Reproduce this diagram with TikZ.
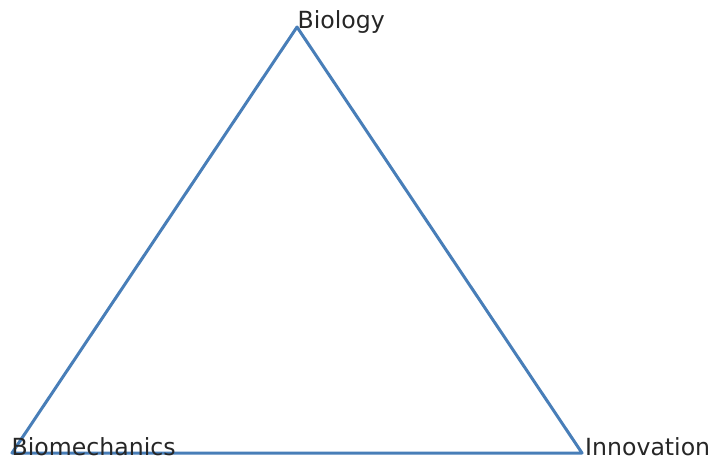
\documentclass[tikz,border=0pt]{standalone}
\usepackage{fontspec}
\setmainfont{DejaVu Sans}
\definecolor{edgeblue}{RGB}{72,126,184}
\definecolor{labelgray}{RGB}{38,38,38}
\begin{document}
\begin{tikzpicture}[x=1pt,y=-1pt,
  vlabel/.style={anchor=base west,inner sep=0pt,text=labelgray,font=\fontsize{23.6}{26}\selectfont},
  edge/.style={draw=edgeblue,line width=3pt,line join=round}]
\useasboundingbox (0,0) rectangle (709,460);
\coordinate (top) at (297,27);
\coordinate (bl) at (12,453);
\coordinate (br) at (582,453);
\draw[edge] (top) -- (br) -- (bl) -- cycle;
\node[vlabel] (biology) at (297.5,28.5) {Biology};
\node[vlabel] (biomech) at (11.5,455) {Biomechanics};
\node[vlabel] (innov) at (585,455) {Innovation};
\end{tikzpicture}
\end{document}
